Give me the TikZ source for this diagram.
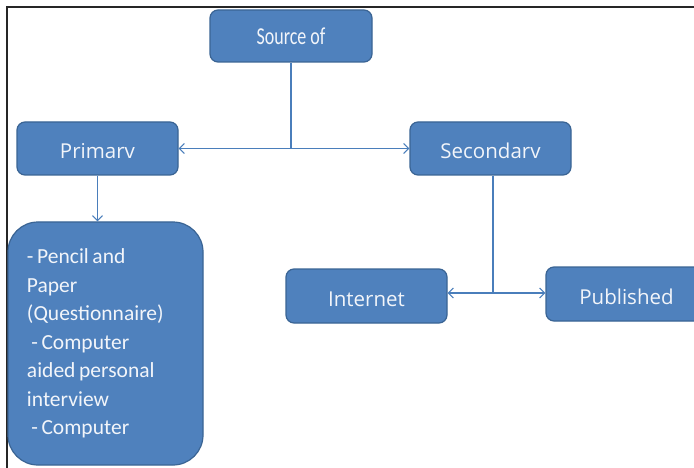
\documentclass[tikz,border=0pt]{standalone}
\usepackage{fontspec}
\setmainfont{Carlito}
\newfontfamily\segoe{Open Sans}
\usetikzlibrary{arrows.meta}
\definecolor{boxfill}{HTML}{4F81BD}
\definecolor{boxline}{HTML}{3A6494}
\definecolor{conn}{HTML}{4A7EBB}
\definecolor{txt}{HTML}{F2F5FA}
\newcommand{\tightwords}{\spaceskip=0.17em\relax}
\tikzset{
  blockbox/.style={draw=boxline, line width=1.2pt, fill=boxfill, rounded corners=8pt,
    text=txt, minimum width=161pt, minimum height=53pt, inner sep=0pt, anchor=center},
  smalllabel/.style={font=\segoe\fontsize{20.5}{24}\selectfont, text height=21pt, text depth=0pt},
  conline/.style={draw=conn, line width=1.1pt},
  conarrow/.style={conline, -{Straight Barb[length=5pt,width=10pt]}},
}
\begin{document}
\begin{tikzpicture}[x=1pt,y=-1pt]
\useasboundingbox (0,0) rectangle (694,468);
\clip (0,0) rectangle (694,468);
\fill[white] (0,0) rectangle (694,468);
% frame
\draw[black!85, line width=2pt] (7,468) -- (7,7) -- (700,7);
% nodes
\node[blockbox, minimum width=162pt, minimum height=52pt] (src) at (291,36)
  {\fontsize{18}{20}\selectfont\scalebox{1}[1.35]{Source of}};
\node[blockbox, smalllabel] (pri) at (97.5,148.5) {Primarv};
\node[blockbox, smalllabel] (sec) at (490.5,148.5) {Secondarv};
\node[blockbox, smalllabel, minimum height=54pt] (inet) at (366.5,296) {Internet};
\node[blockbox, smalllabel, minimum height=54pt] (pub) at (626.5,294) {Published};
\node[blockbox, rounded corners=30pt, minimum width=195pt, minimum height=243pt,
  text width=157pt, inner xsep=19pt, align=left,
  font=\fontsize{21.5}{28.5}\selectfont] (big) at (105.5,343.5)
  {\tightwords - Pencil and\\Paper\\(Questionnaire)\\\hspace*{0.2em}- Computer\\aided personal\\interview\\\hspace*{0.2em}- Computer};
% connectors
\coordinate (j1) at (src.south |- pri.east);
\draw[conline] (src.south) -- (j1);
\draw[conarrow] (j1) -- (pri.east);
\draw[conarrow] (j1) -- (sec.west);
\draw[conarrow] (pri.south) -- (pri.south |- big.north);
\coordinate (j2) at ([xshift=2.5pt]sec.south |- 0,293);
\draw[conline] ([xshift=2.5pt]sec.south) -- (j2);
\draw[conarrow] (j2) -- (inet.east |- j2);
\draw[conarrow] (j2) -- (pub.west |- j2);
\end{tikzpicture}
\end{document}
